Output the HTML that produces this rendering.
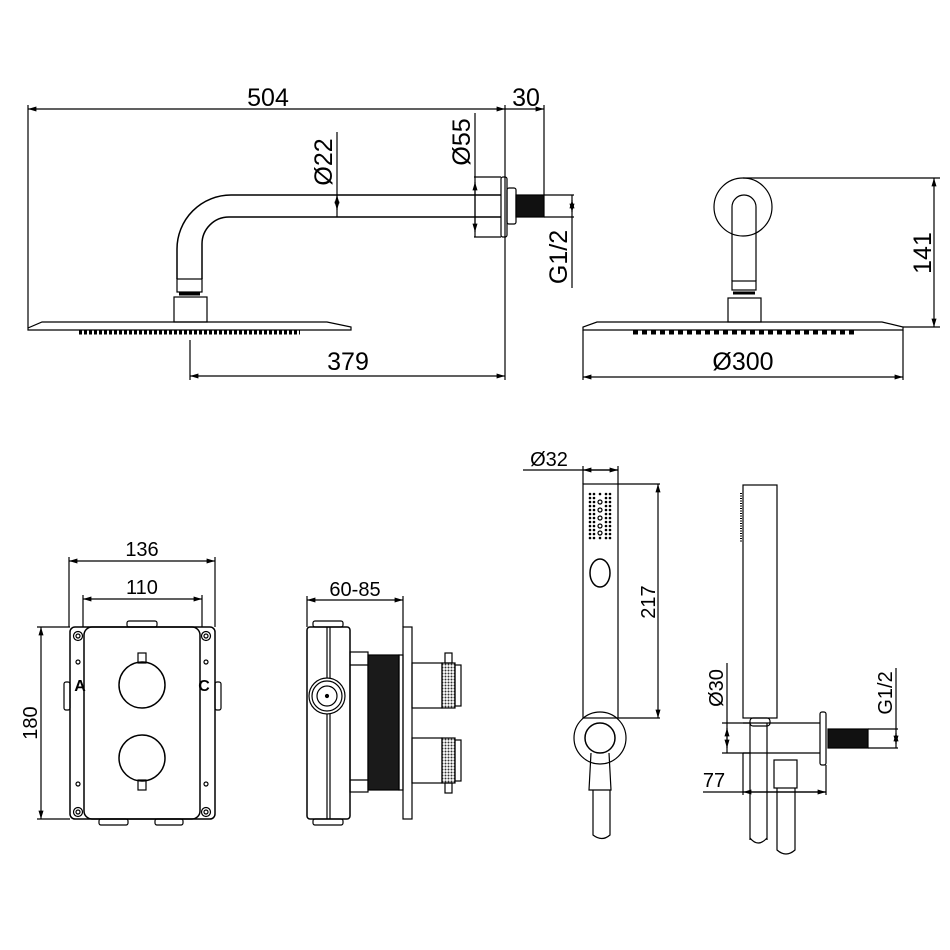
<!DOCTYPE html>
<html><head><meta charset="utf-8"><style>html,body{margin:0;padding:0;background:#fff}svg{display:block}</style></head>
<body>
<svg width="950" height="950" viewBox="0 0 950 950" xmlns="http://www.w3.org/2000/svg" font-family="Liberation Sans, sans-serif">
<defs>
<marker id="a" viewBox="0 0 10 10" refX="10" refY="5" markerWidth="7" markerHeight="7" orient="auto-start-reverse"><path d="M0,2L10,5L0,8z" fill="#000"/></marker>
<pattern id="kn" width="3" height="3" patternUnits="userSpaceOnUse"><rect width="3" height="3" fill="#fff"/><circle cx="1.5" cy="1.5" r="1" fill="#333"/></pattern>
</defs>
<g stroke="#000" stroke-width="1.2" fill="none">
<line x1="28" y1="109" x2="505" y2="109" marker-start="url(#a)" marker-end="url(#a)"/>
<line x1="505" y1="109" x2="544" y2="109" marker-end="url(#a)"/>
<line x1="28" y1="105" x2="28" y2="328"/>
<line x1="505" y1="105" x2="505" y2="380"/>
<line x1="544" y1="105" x2="544" y2="195"/>
<path d="M501,195 H231 A54,54 0 0 0 177,249 V279 M501,217 H229 A27,27 0 0 0 202,244 V279" stroke-width="1.5"/>
<rect x="177" y="279" width="25" height="13"/>
<line x1="179" y1="294" x2="200" y2="294" stroke-width="3"/>
<rect x="174" y="297" width="33" height="25"/>
<path d="M42,322 H327 L351,327 V330 H28 V328 Z"/>
<line x1="79" y1="332" x2="300" y2="332" stroke-width="5" stroke-dasharray="3,2"/>
<line x1="337" y1="132" x2="337" y2="217"/>
<line x1="337" y1="195" x2="337" y2="210" marker-start="url(#a)" marker-end="url(#a)"/>
<rect x="501" y="177" width="6" height="60" rx="2"/>
<rect x="507" y="188" width="9" height="36" rx="2"/>
<rect x="516" y="195" width="28" height="22" fill="#111"/>
<line x1="474" y1="177" x2="501" y2="177"/><line x1="474" y1="237" x2="501" y2="237"/>
<line x1="475" y1="113" x2="475" y2="237"/>
<line x1="475" y1="182" x2="475" y2="232" marker-start="url(#a)" marker-end="url(#a)"/>
<line x1="544" y1="195" x2="574" y2="195"/><line x1="544" y1="217" x2="574" y2="217"/>
<line x1="572" y1="195" x2="572" y2="288"/>
<line x1="572" y1="200" x2="572" y2="212" marker-start="url(#a)" marker-end="url(#a)"/>
<line x1="190" y1="340" x2="190" y2="380"/>
<line x1="190" y1="376" x2="505" y2="376" marker-start="url(#a)" marker-end="url(#a)"/>
<circle cx="743" cy="207" r="29"/>
<path d="M732,281 V207 A12,12 0 0 1 756,207 V281"/>
<rect x="732" y="281" width="24" height="9"/>
<line x1="733" y1="293" x2="755" y2="293" stroke-width="3"/>
<rect x="728" y="298" width="33" height="24"/>
<path d="M597,322 H882 L903,327 V330 H583 V327 Z"/>
<line x1="633" y1="332" x2="855" y2="332" stroke-width="5" stroke-dasharray="5,4"/>
<line x1="743" y1="178" x2="940" y2="178"/><line x1="903" y1="327" x2="940" y2="327"/>
<line x1="934" y1="178" x2="934" y2="327" marker-start="url(#a)" marker-end="url(#a)"/>
<line x1="583" y1="330" x2="583" y2="380"/><line x1="903" y1="330" x2="903" y2="380"/>
<line x1="583" y1="377" x2="903" y2="377" marker-start="url(#a)" marker-end="url(#a)"/>
<line x1="69" y1="557" x2="69" y2="627"/><line x1="215" y1="557" x2="215" y2="627"/>
<line x1="69" y1="561" x2="215" y2="561" marker-start="url(#a)" marker-end="url(#a)"/>
<line x1="83" y1="595" x2="83" y2="627"/><line x1="202" y1="595" x2="202" y2="627"/>
<line x1="83" y1="599" x2="202" y2="599" marker-start="url(#a)" marker-end="url(#a)"/>
<line x1="37" y1="627" x2="70" y2="627"/><line x1="37" y1="819" x2="70" y2="819"/>
<line x1="41" y1="627" x2="41" y2="819" marker-start="url(#a)" marker-end="url(#a)"/>
<rect x="70" y="627" width="145" height="192" rx="5" stroke-width="1.5"/>
<rect x="84" y="627" width="116" height="192" rx="8" stroke-width="1.5"/>
<g><circle cx="78" cy="636" r="4.5"/><circle cx="78" cy="636" r="2"/><circle cx="206" cy="636" r="4.5"/><circle cx="206" cy="636" r="2"/><circle cx="78" cy="812" r="4.5"/><circle cx="78" cy="812" r="2"/><circle cx="206" cy="812" r="4.5"/><circle cx="206" cy="812" r="2"/>
<circle cx="78" cy="662" r="2"/><circle cx="206" cy="662" r="2"/><circle cx="78" cy="784" r="2"/><circle cx="206" cy="784" r="2"/></g>
<rect x="64" y="682" width="6" height="28" rx="2"/><rect x="215" y="682" width="6" height="28" rx="2"/>
<rect x="127" y="621" width="30" height="6" rx="2"/>
<rect x="99" y="819" width="29" height="6" rx="2"/><rect x="155" y="819" width="28" height="6" rx="2"/>
<rect x="138" y="653" width="8" height="10"/><circle cx="142" cy="685" r="23" stroke-width="1.5"/>
<rect x="138" y="780" width="8" height="10"/><circle cx="142" cy="758" r="23" stroke-width="1.5"/>
<line x1="307" y1="596" x2="307" y2="627"/><line x1="403" y1="596" x2="403" y2="627"/>
<line x1="307" y1="600" x2="403" y2="600" marker-start="url(#a)" marker-end="url(#a)"/>
<rect x="307" y="627" width="43" height="192" rx="3" stroke-width="1.5"/>
<line x1="327" y1="627" x2="327" y2="819"/><line x1="330" y1="627" x2="330" y2="819"/>
<rect x="313" y="621" width="30" height="6" rx="2"/><rect x="313" y="819" width="30" height="6" rx="2"/>
<circle cx="327" cy="696" r="18" fill="#fff"/><circle cx="327" cy="696" r="15"/><circle cx="327" cy="696" r="10"/><circle cx="327" cy="696" r="1.5" fill="#000"/>
<rect x="350" y="652" width="18" height="140"/><line x1="350" y1="665" x2="368" y2="665"/><line x1="350" y1="780" x2="368" y2="780"/>
<rect x="368" y="655" width="31" height="135" fill="#1a1a1a"/>
<rect x="399" y="655" width="4" height="135"/>
<rect x="403" y="627" width="9" height="192"/>
<rect x="412" y="663" width="30" height="45"/><rect x="442" y="663" width="13" height="45" fill="url(#kn)"/><rect x="455" y="665" width="6" height="41"/><rect x="445" y="653" width="7" height="10"/>
<rect x="412" y="738" width="30" height="45"/><rect x="442" y="738" width="13" height="45" fill="url(#kn)"/><rect x="455" y="740" width="6" height="41"/><rect x="445" y="783" width="7" height="10"/>
<line x1="523" y1="470" x2="618" y2="470"/>
<line x1="583" y1="466" x2="583" y2="484"/><line x1="618" y1="466" x2="618" y2="484"/>
<line x1="583" y1="470" x2="618" y2="470" marker-start="url(#a)" marker-end="url(#a)"/>
<rect x="583" y="484" width="35" height="234"/>
<line x1="618" y1="484" x2="660" y2="484"/><line x1="618" y1="718" x2="660" y2="718"/>
<line x1="658" y1="484" x2="658" y2="718" marker-start="url(#a)" marker-end="url(#a)"/>
<ellipse cx="600" cy="573" rx="10" ry="14" stroke-width="1.5"/>
<circle cx="600" cy="738" r="26"/><circle cx="600" cy="738" r="15" fill="#fff" stroke-width="1.5"/>
<path d="M591,753 L589,790 H611 L609,753"/>
<path d="M593,790 V835 Q602,842 610,835 V790"/>
<rect x="743" y="485" width="34" height="233"/>
<line x1="741" y1="493" x2="741" y2="543" stroke-width="2" stroke-dasharray="1,1.5"/>
<rect x="750" y="718" width="20" height="8" rx="3"/>
<path d="M743,723 H820 M743,753 H820"/>
<line x1="750" y1="723" x2="750" y2="840"/><line x1="767" y1="723" x2="767" y2="840"/>
<path d="M750,838 Q758,848 767,838"/>
<rect x="820" y="712" width="6" height="53" rx="2"/>
<rect x="828" y="729" width="40" height="19" fill="#111"/>
<line x1="868" y1="729" x2="898" y2="729"/><line x1="868" y1="748" x2="898" y2="748"/>
<line x1="896" y1="668" x2="896" y2="748"/>
<line x1="896" y1="733" x2="896" y2="744" marker-start="url(#a)" marker-end="url(#a)"/>
<line x1="727" y1="663" x2="727" y2="753"/>
<line x1="727" y1="728" x2="727" y2="748" marker-start="url(#a)" marker-end="url(#a)"/>
<line x1="722" y1="723" x2="750" y2="723"/><line x1="722" y1="753" x2="750" y2="753"/>
<rect x="774" y="760" width="23" height="28"/>
<path d="M777,788 V850 Q786,858 795,850 V788"/>
<line x1="743" y1="753" x2="743" y2="795"/><line x1="826" y1="765" x2="826" y2="795"/>
<line x1="703" y1="792" x2="826" y2="792"/>
<line x1="743" y1="792" x2="826" y2="792" marker-start="url(#a)" marker-end="url(#a)"/>
</g>
<g fill="#000">
<g id="dc"><circle cx="590" cy="494" r="1.3"/><circle cx="590" cy="498" r="1.3"/><circle cx="590" cy="502" r="1.3"/><circle cx="590" cy="506" r="1.3"/><circle cx="590" cy="510" r="1.3"/><circle cx="590" cy="514" r="1.3"/><circle cx="590" cy="518" r="1.3"/><circle cx="590" cy="522" r="1.3"/><circle cx="590" cy="526" r="1.3"/><circle cx="590" cy="530" r="1.3"/><circle cx="590" cy="534" r="1.3"/><circle cx="590" cy="538" r="1.3"/></g>
<use href="#dc" x="4"/><use href="#dc" x="16"/><use href="#dc" x="20"/>
<circle cx="600" cy="494" r="1.3"/><circle cx="600" cy="538" r="1.3"/>
</g>
<g fill="none" stroke="#000" stroke-width="1.2"><circle cx="600" cy="502" r="2"/><circle cx="600" cy="510" r="2"/><circle cx="600" cy="518" r="2"/><circle cx="600" cy="526" r="2"/><circle cx="600" cy="533" r="2"/></g>
<g fill="#000" font-size="25" text-anchor="middle">
<text x="268" y="106">504</text>
<text x="526" y="106">30</text>
<text x="348" y="370">379</text>
<text x="743" y="370">Ø300</text>
<text transform="translate(332,162) rotate(-90)">Ø22</text>
<text transform="translate(470,142) rotate(-90)">Ø55</text>
<text transform="translate(567,257) rotate(-90)">G1/2</text>
<text transform="translate(931,253) rotate(-90)">141</text>
</g>
<g fill="#000" font-size="20" text-anchor="middle">
<text x="142" y="556">136</text>
<text x="142" y="594">110</text>
<text x="355" y="596">60-85</text>
<text transform="translate(37,723) rotate(-90)">180</text>
<text x="549" y="466">Ø32</text>
<text transform="translate(655,602) rotate(-90)">217</text>
<text transform="translate(723,688) rotate(-90)">Ø30</text>
<text transform="translate(892,693) rotate(-90)">G1/2</text>
<text x="714" y="787">77</text>
<text x="80" y="691" font-size="16" font-weight="bold">A</text>
<text x="204" y="691" font-size="16" font-weight="bold">C</text>
</g>
</svg>
</body></html>
